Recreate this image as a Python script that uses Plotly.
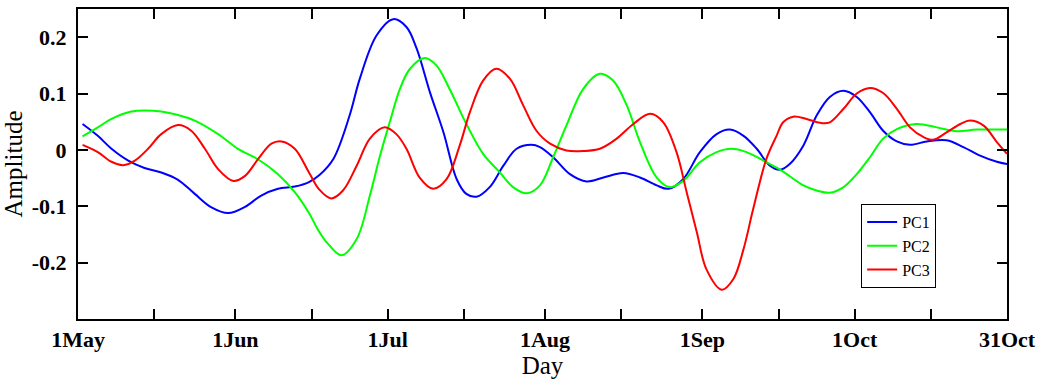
import plotly.graph_objects as go

# Day index: 0 = 1 May, 183 = 31 Oct
day_pc1 = [0.9, 3.9, 6.6, 9.9, 13.1, 16.4, 19.7, 23, 26.3, 29.6, 32.9, 36.1, 39.4, 42.7, 45.5, 47.5,
           50.3, 53.5, 55.5, 58.8, 62.1, 64.7, 66.7, 69.3, 72, 74.6, 76.5, 78.5, 81.1, 83.8, 86.4, 89.3,
           91, 93.6, 96.9, 100.2, 103.5, 107.4, 110.7, 114, 116.3, 119.2, 122.5, 125.8, 128.4, 131.1,
           133.7, 136.3, 138.3, 140.2, 142.9, 145.5, 148.1, 150.8, 153.4, 156, 158.6, 161.3, 163.9,
           167.2, 171.1, 174.4, 177.7, 181, 183]
amp_pc1 = [0.046, 0.025, 0.002, -0.019, -0.032, -0.040, -0.053, -0.078, -0.102, -0.112, -0.101, -0.081,
           -0.069, -0.065, -0.057, -0.045, -0.016, 0.061, 0.126, 0.203, 0.232, 0.218, 0.180, 0.103, 0.031,
           -0.052, -0.078, -0.083, -0.066, -0.028, 0.002, 0.009, 0.005, -0.013, -0.043, -0.056, -0.049,
           -0.041, -0.049, -0.063, -0.069, -0.052, -0.004, 0.028, 0.036, 0.025, 0.002, -0.028, -0.035,
           -0.025, 0.008, 0.061, 0.094, 0.105, 0.094, 0.067, 0.034, 0.015, 0.009, 0.015, 0.017, 0.005,
           -0.010, -0.021, -0.025]

day_pc2 = [0.9, 3.9, 6.6, 10.5, 13.1, 16.4, 19.7, 23, 27.6, 31.5, 35.5, 39.4, 42.7, 45.5, 47.3, 49,
           51.9, 54.9, 57.5, 59.5, 61.4, 63.4, 65.4, 68.3, 70.6, 73.2, 76.5, 79.8, 83.1, 85.7, 88.4, 91,
           93.6, 96.2, 99.5, 102.8, 105.4, 108.1, 110.7, 114, 116.6, 119.2, 122.5, 125.8, 128.7, 131.7,
           135, 138.3, 142.9, 145.5, 148.1, 150.8, 153.4, 156, 158.6, 161.3, 165.2, 169.2, 173.1, 177, 183]
amp_pc2 = [0.024, 0.040, 0.055, 0.068, 0.070, 0.068, 0.062, 0.052, 0.028, 0.002, -0.017, -0.043, -0.075,
           -0.112, -0.142, -0.164, -0.187, -0.158, -0.081, -0.010, 0.049, 0.108, 0.144, 0.163, 0.150,
           0.108, 0.046, -0.007, -0.040, -0.066, -0.077, -0.063, -0.013, 0.043, 0.108, 0.135, 0.123,
           0.079, 0.014, -0.049, -0.066, -0.055, -0.022, -0.004, 0.002, -0.004, -0.019, -0.035, -0.063,
           -0.072, -0.076, -0.066, -0.043, -0.013, 0.020, 0.037, 0.046, 0.040, 0.033, 0.036, 0.036]

day_pc3 = [0.9, 3.9, 6.6, 8.9, 11.2, 13.8, 16.4, 19.7, 22.3, 25, 27.6, 30.6, 32.9, 35.5, 38.1, 40.1,
           42.7, 45.5, 47.5, 49.9, 52.2, 54.9, 57.5, 60.4, 62.7, 64.7, 67.3, 70, 72.6, 75.2, 77.2, 79.8,
           82.4, 85.1, 87.7, 90.3, 93, 96.2, 99.5, 102.8, 106.1, 109.4, 112.7, 115.3, 117.9, 119.9, 121.9,
           123.8, 126.8, 129.1, 131.1, 133, 135.6, 137.6, 138.9, 140.9, 143.5, 146.2, 148.1, 150.8, 153.4,
           156, 158.6, 161.3, 163.9, 166.5, 168.5, 171.1, 173.8, 175.7, 178.4, 181, 183]
amp_pc3 = [0.009, -0.004, -0.021, -0.027, -0.019, 0.002, 0.028, 0.044, 0.034, 0.002, -0.034, -0.055,
           -0.046, -0.016, 0.011, 0.015, 0.002, -0.040, -0.070, -0.086, -0.072, -0.028, 0.020, 0.040,
           0.028, 0.002, -0.049, -0.069, -0.052, 0.008, 0.067, 0.123, 0.144, 0.126, 0.079, 0.034, 0.011,
           -0.001, -0.002, 0.002, 0.020, 0.046, 0.064, 0.049, -0.004, -0.075, -0.146, -0.212, -0.248,
           -0.229, -0.176, -0.105, -0.016, 0.025, 0.049, 0.059, 0.055, 0.048, 0.049, 0.073, 0.100, 0.110,
           0.101, 0.073, 0.040, 0.023, 0.018, 0.031, 0.046, 0.052, 0.043, 0.014, -0.007]

series_names = ["PC1", "PC2", "PC3"]
series_colors = ["#0000ff", "#00ff00", "#ff0000"]

x_tick_days = [0, 15, 31, 46, 61, 76, 92, 107, 123, 138, 153, 168, 183]
x_tick_text = ["1May", "", "1Jun", "", "1Jul", "", "1Aug", "", "1Sep", "", "1Oct", "", "31Oct"]
y_tick_vals = [0.2, 0.1, 0, -0.1, -0.2]
y_tick_text = ["0.2", "0.1", "0", "-0.1", "-0.2"]

fig = go.Figure()
for xs, ys, name, color in zip([day_pc1, day_pc2, day_pc3], [amp_pc1, amp_pc2, amp_pc3],
                               series_names, series_colors):
    fig.add_trace(go.Scatter(x=xs, y=ys, mode="lines", name=name,
                             line=dict(color=color, width=2, shape="spline", smoothing=1.0)))

serif = "Liberation Serif"
fig.update_layout(
    width=1044, height=386,
    margin=dict(l=78, r=37, t=9, b=67, autoexpand=False),
    plot_bgcolor="white", paper_bgcolor="white",
    font=dict(family=serif, color="black"),
    legend=dict(x=0.843, y=0.371, xanchor="left", yanchor="top",
                bordercolor="black", borderwidth=1, bgcolor="white",
                font=dict(family=serif, size=16, color="black"),
                tracegroupgap=0, itemwidth=30),
)
fig.update_xaxes(
    range=[0, 183], tickmode="array", tickvals=x_tick_days, ticktext=x_tick_text,
    ticks="inside", ticklen=10, tickwidth=1.5, tickcolor="black",
    showline=True, linecolor="black", linewidth=2, mirror="ticks",
    showgrid=False, zeroline=False, automargin=False,
    tickfont=dict(family=serif, size=22, weight="bold", color="black"),
    title=dict(text="Day", font=dict(family=serif, size=25, color="black"), standoff=2),
)
fig.update_yaxes(
    range=[-0.3, 0.25], tickmode="array", tickvals=y_tick_vals, ticktext=y_tick_text,
    ticks="inside", ticklen=10, tickwidth=1.5, tickcolor="black",
    showline=True, linecolor="black", linewidth=2, mirror="ticks",
    showgrid=False, zeroline=False, automargin=False, ticklabelstandoff=5,
    tickfont=dict(family=serif, size=22, weight="bold", color="black"),
    title=dict(text="Amplitude", font=dict(family=serif, size=25, color="black"), standoff=4),
)

fig.write_html("out.html", config={"displayModeBar": False},
               post_script="document.body.style.margin='0';document.body.style.overflow='hidden';")
